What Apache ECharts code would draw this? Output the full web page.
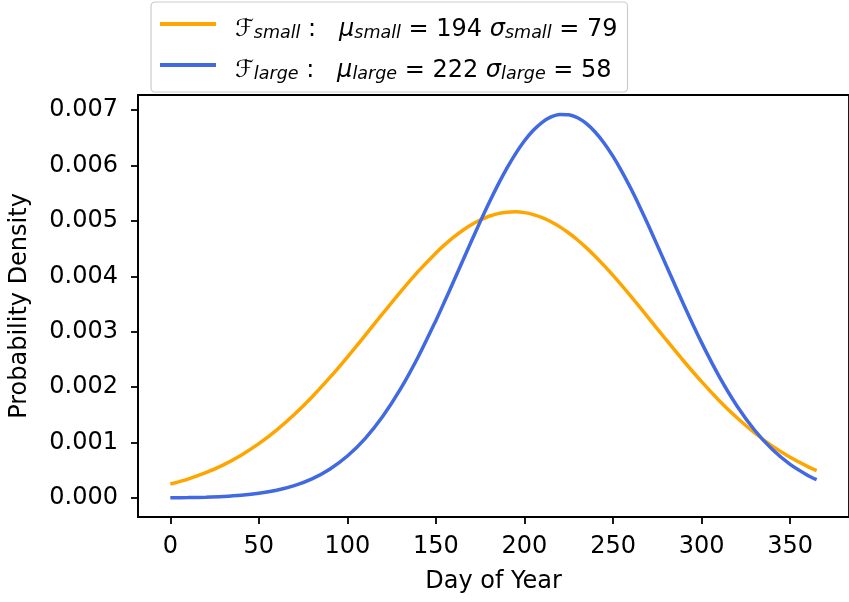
<!DOCTYPE html>
<html>
<head>
<meta charset="utf-8">
<script src="https://cdn.jsdelivr.net/npm/echarts@6/dist/echarts.min.js"></script>
<style>html,body{margin:0;padding:0;background:#fff;}#chart{width:849px;height:602px;}</style>
</head>
<body>
<div id="chart"></div>
<script>
const days = [0,10,20,30,40,50,60,70,80,90,100,110,120,130,140,150,155,160,165,170,175,180,185,190,195,200,205,210,215,220,225,230,235,240,245,250,255,260,265,270,280,290,300,310,320,330,340,350,360,365];
const smallDensity = [0.0002533,0.0003428,0.0004567,0.0005987,0.0007724,0.0009807,0.0012254,0.0015068,0.0018232,0.0021712,0.0025444,0.0029344,0.0033305,0.0037198,0.0040886,0.0044225,0.0045720,0.0047077,0.0048280,0.0049317,0.0050173,0.0050840,0.0051311,0.0051579,0.0051641,0.0051496,0.0051147,0.0050597,0.0049852,0.0048922,0.0047818,0.0046553,0.0045138,0.0043592,0.0041930,0.0040170,0.0038332,0.0036431,0.0034486,0.0032514,0.0028557,0.0024681,0.0020993,0.0017572,0.0014477,0.0011735,0.0009361,0.0007350,0.0005679,0.000496];
const largeDensity = [0.0000046,0.0000087,0.0000161,0.0000289,0.0000504,0.0000853,0.0001400,0.0002234,0.0003458,0.0005197,0.0007583,0.0010734,0.0014754,0.0019686,0.0025495,0.0032052,0.0035541,0.0039113,0.0042733,0.0046337,0.0049876,0.0053290,0.0056510,0.0059483,0.0062149,0.0064456,0.0066349,0.0067794,0.0068759,0.0069220,0.0069168,0.0068605,0.0067543,0.0066002,0.0064024,0.0061644,0.0058911,0.0055884,0.0052619,0.0049177,0.0042009,0.0034833,0.0028041,0.0021909,0.0016614,0.0012233,0.0008743,0.0006066,0.0004085,0.000331];
const xTicks = [0,50,100,150,200,250,300,350];
const yTicks = [0,0.001,0.002,0.003,0.004,0.005,0.006,0.007];
const seriesNames = ['small','large'];
const legendParams = {small:{mu:194, sigma:79}, large:{mu:222, sigma:58}};

const FONT = 'DejaVu Sans';
const FS = 24;
const chart = echarts.init(document.getElementById('chart'), null, {renderer:'canvas'});
const pair = (ys) => days.map((d,i)=>[d, ys[i]]);

chart.setOption({
  animation:false,
  backgroundColor:'#ffffff',
  grid:{left:137, top:95, width:723, height:422, show:true, borderColor:'#000', borderWidth:1.8, backgroundColor:'transparent'},
  legend:{
    orient:'vertical', left:151, top:2,
    padding:[4,10,9,9],
    itemGap:5, itemWidth:56, itemHeight:4, icon:'rect',
    borderColor:'#cccccc', borderWidth:1.2, borderRadius:4, backgroundColor:'#fff',
    data: seriesNames,
    formatter: function(name){
      const p = legendParams[name];
      return '{F|ℱ}{sub|' + name + '}{t| :   }{g|μ}{sub|' + name + '}{t| = ' + p.mu + ' }{g|σ}{sub|' + name + '}{t| = ' + p.sigma + '}';
    },
    textStyle:{
      fontFamily:FONT, fontSize:FS, color:'#000', padding:[0,0,0,14], lineHeight:36,
      rich:{
        F:{fontFamily:FONT, fontSize:FS, fontStyle:'italic', color:'#000', lineHeight:36, verticalAlign:'bottom'},
        g:{fontFamily:FONT, fontSize:FS, fontStyle:'italic', color:'#000', lineHeight:36, verticalAlign:'bottom'},
        t:{fontFamily:FONT, fontSize:FS, color:'#000', lineHeight:36, verticalAlign:'bottom'},
        sub:{fontFamily:FONT, fontSize:17.5, fontStyle:'italic', color:'#000', lineHeight:19, verticalAlign:'bottom'}
      }
    }
  },
  xAxis:{
    type:'value', min:-18.25, max:383.25,
    name:'Day of Year', nameLocation:'middle', nameGap:53,
    nameTextStyle:{fontFamily:FONT, fontSize:FS, color:'#000'},
    axisLine:{show:true, onZero:false, lineStyle:{color:'#000', width:1.8}},
    axisTick:{show:true, length:7, lineStyle:{color:'#000', width:1.8}, customValues:xTicks},
    axisLabel:{fontFamily:FONT, fontSize:FS, color:'#000', margin:18, customValues:xTicks},
    splitLine:{show:false}
  },
  yAxis:{
    type:'value', min:-0.000342, max:0.007272,
    name:'Probability Density', nameLocation:'middle', nameGap:106,
    nameTextStyle:{fontFamily:FONT, fontSize:FS, color:'#000'},
    axisLine:{show:true, onZero:false, lineStyle:{color:'#000', width:1.8}},
    axisTick:{show:true, length:7, lineStyle:{color:'#000', width:1.8}, customValues:yTicks},
    axisLabel:{fontFamily:FONT, fontSize:FS, color:'#000', margin:20, customValues:yTicks, formatter:(v)=>v.toFixed(3)},
    splitLine:{show:false}
  },
  series:[
    {name:'small', type:'line', data:pair(smallDensity), smooth:0.3, showSymbol:false, lineStyle:{color:'#FFA500', width:3.5}, itemStyle:{color:'#FFA500'}},
    {name:'large', type:'line', data:pair(largeDensity), smooth:0.3, showSymbol:false, lineStyle:{color:'#4169E1', width:3.5}, itemStyle:{color:'#4169E1'}}
  ]
});
</script>
</body>
</html>
